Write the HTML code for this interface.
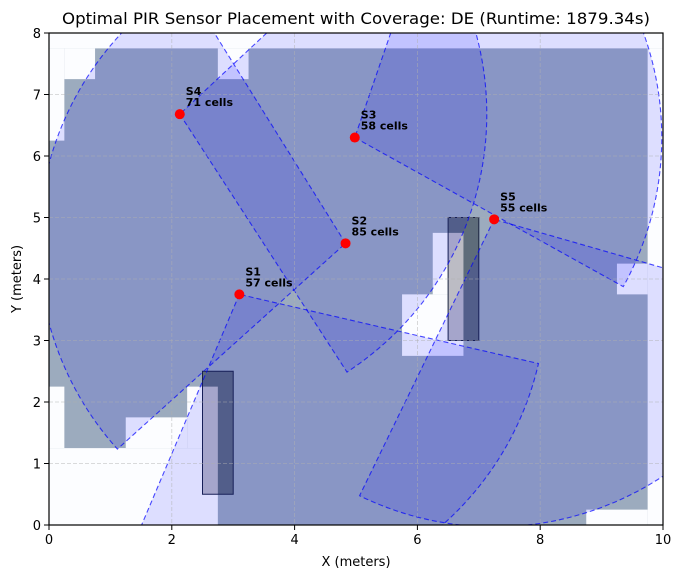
<!DOCTYPE html>
<html><head><meta charset="utf-8"><style>
html,body{margin:0;padding:0;background:#fff;width:682px;height:578px;overflow:hidden}
text{font-family:"DejaVu Sans","Liberation Sans",sans-serif}
</style></head><body>
<svg id="chart" width="682" height="578" viewBox="0 0 682 578" xmlns="http://www.w3.org/2000/svg">
<defs><clipPath id="plotclip"><rect x="49" y="33" width="614" height="492"/></clipPath></defs>
<g id="plot" clip-path="url(#plotclip)"></g>
<g id="axes"></g>
</svg>
<script>
// ---- data ----
const sensorNames = ['S1','S2','S3','S4','S5'];
const sensorX = [3.1, 4.83, 4.98, 2.13, 7.25];
const sensorY = [3.75, 4.58, 6.3, 6.68, 4.97];
const sensorCells = [57, 85, 58, 71, 55];
const wedgeStart = [-113, 122, -29, -57, -116];
const wedgeEnd = [-13, 222, 71, 43, -16];
const wedgeRadius = [5, 5, 5, 5, 5];
const uncoveredCells = [
 [0,7.75,10,8],[0,6.25,0.25,7.75],[0.25,7.25,0.75,7.75],[2.75,7.25,3.25,7.75],
 [9.75,0,10,7.75],[9.25,3.75,9.75,4.25],[8.75,0,9.75,0.25],[0,0,2.75,1.25],
 [0,1.25,0.25,2.25],[1.25,1.25,2.25,1.75],[2.25,1.25,2.75,2.25],
 [5.75,2.75,6.75,3.75],[6.25,3.75,6.75,4.75]
];
const obstacles = [[2.5,0.5,3.0,2.5],[6.5,3.0,7.0,5.0]];
const obstacleUncovered = [[2.5,0.5,2.75,2.25],[6.5,3.0,6.75,4.75]];
const xTicks = [0,2,4,6,8,10];
const yTicks = [0,1,2,3,4,5,6,7,8];

// ---- axes functions ----
const X0=49,X1=663,Y0=525,Y1=33;
const X = v => X0 + (v/10)*(X1-X0);
const Y = v => Y0 - (v/8)*(Y0-Y1);
const NS='http://www.w3.org/2000/svg';
const plot=document.getElementById('plot'), axes=document.getElementById('axes');
function mk(tag, attrs, parent){const e=document.createElementNS(NS,tag);for(const k in attrs)e.setAttribute(k,attrs[k]);parent.appendChild(e);return e;}
function rectD(r,fill,parent){return mk('rect',{x:X(r[0]),y:Y(r[3]),width:X(r[2])-X(r[0]),height:Y(r[1])-Y(r[3]),fill:fill},parent);}

let bg=rectD([0,0,10,8],'#9cabbe',plot);


uncoveredCells.forEach(c=>{
  const r=rectD(c,'#fcfdff',plot);
  
  
});
obstacles.forEach((o,i)=>{
  const r=rectD(o,'#5e6c7a',plot);
  
  
  const l=rectD(obstacleUncovered[i],'#bcbcc4',plot);
  
  
  const b=rectD(o,'none',plot);
  b.setAttribute('stroke','#1a2340');b.setAttribute('stroke-width','1');
  
  
});
// wedges
for(let i=0;i<sensorX.length;i++){
  const cx=sensorX[i],cy=sensorY[i],r=wedgeRadius[i];
  const a1=wedgeStart[i]*Math.PI/180,a2=wedgeEnd[i]*Math.PI/180;
  const p1=[X(cx+r*Math.cos(a1)),Y(cy+r*Math.sin(a1))];
  const p2=[X(cx+r*Math.cos(a2)),Y(cy+r*Math.sin(a2))];
  const rx=X(r)-X(0), ry=Y(0)-Y(r);
  const large=(wedgeEnd[i]-wedgeStart[i])>180?1:0;
  const d=`M${X(cx)},${Y(cy)} L${p1[0]},${p1[1]} A${rx},${ry} 0 ${large} 0 ${p2[0]},${p2[1]} Z`;
  const w=mk('path',{d:d,fill:'rgba(0,0,255,0.12)',stroke:'rgba(0,0,255,0.7)','stroke-width':1.1,'stroke-dasharray':'5,3'},plot);
  
  
}
// grid
xTicks.forEach(t=>{const g=mk('line',{x1:X(t),x2:X(t),y1:Y1,y2:Y0,stroke:'#b0b0b0','stroke-opacity':0.6,'stroke-width':0.8,'stroke-dasharray':'4,2'},plot);
  });
yTicks.forEach(t=>{const g=mk('line',{x1:X0,x2:X1,y1:Y(t),y2:Y(t),stroke:'#b0b0b0','stroke-opacity':0.6,'stroke-width':0.8,'stroke-dasharray':'4,2'},plot);
  });
// sensors
for(let i=0;i<sensorX.length;i++){
  const c=mk('circle',{cx:X(sensorX[i]),cy:Y(sensorY[i]),r:5,fill:'#ff0000'},plot);
  
  
  const t1=mk('text',{x:X(sensorX[i])+6,y:Y(sensorY[i])-19,'font-size':11,'font-weight':'bold',fill:'#000'},axes);
  t1.textContent=sensorNames[i];
  
  
  const t2=mk('text',{x:X(sensorX[i])+6,y:Y(sensorY[i])-8,'font-size':11,'font-weight':'bold',fill:'#000'},axes);
  t2.textContent=sensorCells[i]+' cells';
  
  
}
// frame & ticks
const fr=mk('rect',{x:X0,y:Y1,width:X1-X0,height:Y0-Y1,fill:'none',stroke:'#000','stroke-width':1.2},axes);

xTicks.forEach(t=>{mk('line',{x1:X(t),x2:X(t),y1:Y0,y2:Y0+5,stroke:'#000'},axes);
  const l=mk('text',{x:X(t),y:Y0+19,'font-size':13,'text-anchor':'middle'},axes);l.textContent=t;
  });
yTicks.forEach(t=>{mk('line',{x1:X0-5,x2:X0,y1:Y(t),y2:Y(t),stroke:'#000'},axes);
  const l=mk('text',{x:X0-8,y:Y(t)+5,'font-size':13,'text-anchor':'end'},axes);l.textContent=t;
  });
const xt=mk('text',{x:356,y:566,'font-size':13,'text-anchor':'middle'},axes);xt.textContent='X (meters)';

const yt=mk('text',{x:21,y:279,'font-size':13,'text-anchor':'middle',transform:'rotate(-90 21 279)'},axes);yt.textContent='Y (meters)';

const tt=mk('text',{x:356,y:24,'font-size':16,'text-anchor':'middle',textLength:588,lengthAdjust:'spacingAndGlyphs'},axes);
tt.textContent='Optimal PIR Sensor Placement with Coverage: DE (Runtime: 1879.34s)';

</script>
</body></html>
